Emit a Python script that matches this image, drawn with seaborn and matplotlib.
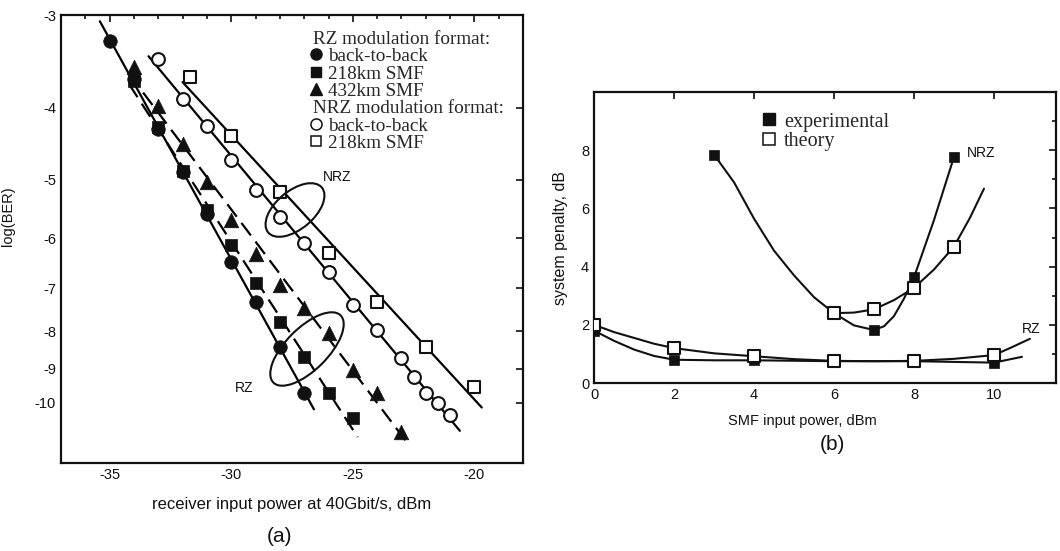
import numpy as np
import matplotlib.pyplot as plt
import matplotlib.patches as mpatches
from matplotlib.lines import Line2D
from matplotlib.ticker import MultipleLocator, FixedLocator
import seaborn as sns

# ---- (a) BER vs receiver input power ----
rz_b2b_x = [-35, -34, -33, -32, -31, -30, -29, -28, -27]
rz_b2b_y = [-3.25, -3.66, -4.27, -4.89, -5.56, -6.45, -7.30, -8.40, -9.69]
rz_218_x = [-34, -33, -32, -31, -30, -29, -28, -27, -26, -25]
rz_218_y = [-3.68, -4.25, -4.87, -5.49, -6.12, -6.89, -7.77, -8.67, -9.69, -10.48]
rz_432_x = [-34, -33, -32, -31, -30, -29, -28, -27, -26, -25, -24, -23]
rz_432_y = [-3.53, -3.98, -4.48, -5.03, -5.66, -6.30, -6.93, -7.44, -8.05, -9.03, -9.69, -10.95]
nrz_b2b_x = [-33, -32, -31, -30, -29, -28, -27, -26, -25, -24, -23, -22.5, -22, -21.5, -21]
nrz_b2b_y = [-3.44, -3.89, -4.24, -4.70, -5.16, -5.61, -6.08, -6.67, -7.37, -7.97, -8.70,
             -9.22, -9.69, -10.0, -10.38]
nrz_218_x = [-31.7, -30, -28, -26, -24, -22, -20]
nrz_218_y = [-3.64, -4.37, -5.20, -6.27, -7.30, -8.40, -9.52]

ber_ticks = [-3, -4, -5, -6, -7, -8, -9, -10]
pwr_ticks = [-35, -30, -25, -20]

# ---- (b) system penalty vs SMF input power ----
nrz_exp_x = [3, 6, 7, 8, 9]
nrz_exp_y = [7.85, 2.40, 1.82, 3.63, 7.77]
nrz_th_x = [6, 7, 8, 9]
nrz_th_y = [2.40, 2.53, 3.27, 4.69]
rz_exp_x = [0, 2, 4, 6, 8, 10]
rz_exp_y = [1.80, 0.80, 0.78, 0.75, 0.75, 0.68]
rz_th_x = [0, 2, 4, 6, 8, 10]
rz_th_y = [2.00, 1.20, 0.92, 0.75, 0.75, 0.96]

# smooth curves
nrz_exp_cx = [3, 3.5, 4, 4.5, 5, 5.5, 6, 6.5, 7, 7.25, 7.5, 7.75, 8, 8.5, 9]
nrz_exp_cy = [7.85, 6.9, 5.65, 4.55, 3.7, 2.95, 2.4, 1.98, 1.82, 1.95, 2.3, 2.9, 3.63, 5.6, 7.77]
nrz_th_cx = [6, 6.5, 7, 7.5, 8, 8.5, 9, 9.4, 9.75]
nrz_th_cy = [2.4, 2.42, 2.53, 2.85, 3.27, 3.9, 4.69, 5.68, 6.68]
rz_th_cx = [0, 0.5, 1, 1.5, 2, 3, 4, 5, 6, 7, 8, 9, 10, 10.4, 10.9]
rz_th_cy = [2.0, 1.75, 1.55, 1.35, 1.2, 1.02, 0.92, 0.82, 0.76, 0.75, 0.76, 0.83, 0.96, 1.2, 1.52]
rz_exp_cx = [0, 0.5, 1, 1.5, 2, 3, 4, 6, 8, 10, 10.7]
rz_exp_cy = [1.8, 1.45, 1.15, 0.93, 0.8, 0.78, 0.78, 0.75, 0.75, 0.7, 0.9]


def fwd(y):
    return -np.log10(np.clip(-np.asarray(y, dtype=float), 1e-6, None))


def inv(z):
    return -10.0 ** (-np.asarray(z, dtype=float))


def fit_line(ax, x, y, ls, ext=0.4):
    # straight fit in the log(-log BER) space, drawn a bit past the points
    k, b = np.polyfit(x, fwd(y), 1)
    xs = np.array([min(x) - ext, max(x) + ext])
    ax.plot(xs, inv(k * xs + b), color='k', lw=1.6, ls=ls, zorder=2)


sns.set_style('white')
plt.rcParams['font.family'] = ['Liberation Sans', 'DejaVu Sans']
plt.rcParams['axes.unicode_minus'] = False
ink = '#111111'

fig = plt.figure(figsize=(10.6, 5.51), dpi=100)
ax1 = fig.add_axes([0.0575, 0.1597, 0.436, 0.813])
ax2 = fig.add_axes([0.5604, 0.3049, 0.4358, 0.528])

# ---------------- panel (a) ----------------
ax1.set_yscale('function', functions=(fwd, inv))
dash = (0, (7, 3.5))
fit_line(ax1, rz_b2b_x, rz_b2b_y, '-', ext=0.4)
fit_line(ax1, rz_218_x, rz_218_y, dash, ext=0.2)
fit_line(ax1, rz_432_x, rz_432_y, dash, ext=0.2)
fit_line(ax1, nrz_b2b_x, nrz_b2b_y, '-', ext=0.4)
fit_line(ax1, nrz_218_x, nrz_218_y, '-', ext=0.3)

mk = dict(color=ink, ax=ax1, zorder=3, legend=False)
sns.scatterplot(x=rz_432_x, y=rz_432_y, marker='^', s=110, edgecolor=ink, linewidth=0.5, **mk)
sns.scatterplot(x=rz_218_x, y=rz_218_y, marker='s', s=80, edgecolor=ink, linewidth=0.5, **mk)
sns.scatterplot(x=rz_b2b_x, y=rz_b2b_y, marker='o', s=95, edgecolor=ink, linewidth=0.5, **mk)
sns.scatterplot(x=nrz_b2b_x, y=nrz_b2b_y, marker='o', s=85, facecolor='white',
                edgecolor=ink, linewidth=1.5, ax=ax1, zorder=3, legend=False)
sns.scatterplot(x=nrz_218_x, y=nrz_218_y, marker='s', s=85, facecolor='white',
                edgecolor=ink, linewidth=1.5, ax=ax1, zorder=3, legend=False)

ax1.set_xlim(-37, -18)
ax1.set_ylim(-12.05, -3)
ax1.yaxis.set_major_locator(FixedLocator(ber_ticks))
ax1.yaxis.set_minor_locator(FixedLocator([]))
ax1.set_yticklabels([str(t) for t in ber_ticks])
ax1.set_xticks(pwr_ticks)
ax1.set_xticklabels([str(t) for t in pwr_ticks])
ax1.xaxis.set_minor_locator(MultipleLocator(1))
ax1.set_xlabel('receiver input power at 40Gbit/s, dBm', fontsize=12, color=ink, labelpad=11)
ax1.set_ylabel('log(BER)', fontsize=10.5, color=ink, labelpad=12)
ax1.yaxis.set_label_coords(-0.1, 0.55)

# legend of panel (a)
blank = Line2D([], [], ls='none')
hnd = [blank,
       Line2D([], [], ls='none', marker='o', ms=8, color=ink),
       Line2D([], [], ls='none', marker='s', ms=7, color=ink),
       Line2D([], [], ls='none', marker='^', ms=8, color=ink),
       blank,
       Line2D([], [], ls='none', marker='o', ms=8, mfc='white', mec=ink, mew=1.1),
       Line2D([], [], ls='none', marker='s', ms=7.5, mfc='white', mec=ink, mew=1.1)]
lab = ['RZ modulation format:', 'back-to-back', '218km SMF', '432km SMF',
       'NRZ modulation format:', 'back-to-back', '218km SMF']
fs_leg = 13.8
leg = ax1.legend(hnd, lab, loc='upper left', bbox_to_anchor=(0.538, 0.966), frameon=False,
                 prop={'family': 'Liberation Serif', 'size': fs_leg}, handlelength=0.65,
                 handletextpad=0.3, labelspacing=0.0, borderpad=0, borderaxespad=0)
for i in (0, 4):
    leg.get_texts()[i].set_x(-(0.65 + 0.3) * fs_leg * 100 / 72 + 3)

ax1.text(0.567, 0.638, 'NRZ', transform=ax1.transAxes, fontsize=10, color=ink, va='center')
ax1.text(0.377, 0.167, 'RZ', transform=ax1.transAxes, fontsize=10, color=ink, va='center')
for cx, cy, w, h, ang in [(2.95, 3.41, 0.70, 0.38, 40), (3.07, 2.02, 0.95, 0.42, 45)]:
    fig.add_artist(mpatches.Ellipse((cx, cy), w, h, angle=ang, fill=False, ec=ink, lw=1.5,
                                    transform=fig.dpi_scale_trans))

# ---------------- panel (b) ----------------
ln = dict(color=ink, lw=1.5, ax=ax2, sort=False, estimator=None, legend=False)
sns.lineplot(x=rz_exp_cx, y=rz_exp_cy, **ln)
sns.lineplot(x=rz_th_cx, y=rz_th_cy, **ln)
sns.lineplot(x=nrz_exp_cx, y=nrz_exp_cy, **ln)
sns.lineplot(x=nrz_th_cx, y=nrz_th_cy, **ln)

sns.scatterplot(x=rz_exp_x + nrz_exp_x, y=rz_exp_y + nrz_exp_y, marker='s', s=60,
                color=ink, edgecolor=ink, linewidth=0.5, ax=ax2, zorder=3, legend=False)
sns.scatterplot(x=rz_th_x + nrz_th_x, y=rz_th_y + nrz_th_y, marker='s', s=70,
                facecolor='white', edgecolor=ink, linewidth=1.5, ax=ax2, zorder=4, legend=False)

ax2.set_xlim(0, 11.55)
ax2.set_ylim(0, 10)
ax2.set_xticks([0, 2, 4, 6, 8, 10])
ax2.set_yticks([0, 2, 4, 6, 8])
ax2.yaxis.set_minor_locator(MultipleLocator(1))
ax2.set_xlabel('SMF input power, dBm', fontsize=10.5, color=ink)
ax2.xaxis.set_label_coords(0.45, -0.105)
ax2.set_ylabel('system penalty, dB', fontsize=11.5, color=ink, labelpad=9)

hnd2 = [Line2D([], [], ls='none', marker='s', ms=9, color=ink),
        Line2D([], [], ls='none', marker='s', ms=9, mfc='white', mec=ink, mew=1.1)]
ax2.legend(hnd2, ['experimental', 'theory'], loc='upper left', bbox_to_anchor=(0.365, 0.93),
           frameon=False, prop={'family': 'Liberation Serif', 'size': 14.5}, handlelength=0.6,
           handletextpad=0.45, labelspacing=0.0, borderpad=0, borderaxespad=0)
ax2.text(9.33, 7.9, 'NRZ', fontsize=10, color=ink, va='center')
ax2.text(10.7, 1.85, 'RZ', fontsize=10, color=ink, va='center')

for ax in (ax1, ax2):
    for s in ax.spines.values():
        s.set_linewidth(1.6)
        s.set_color(ink)
    ax.tick_params(which='both', direction='in', top=True, right=True, colors=ink,
                   labelsize=10.5, width=1.2)
    ax.tick_params(which='major', length=5)
    ax.tick_params(which='minor', length=3)

fig.text(0.264, 0.017, '(a)', fontsize=15, color=ink, ha='center')
fig.text(0.785, 0.183, '(b)', fontsize=15, color=ink, ha='center')

fig.savefig('out.png', dpi=100, facecolor='white')
